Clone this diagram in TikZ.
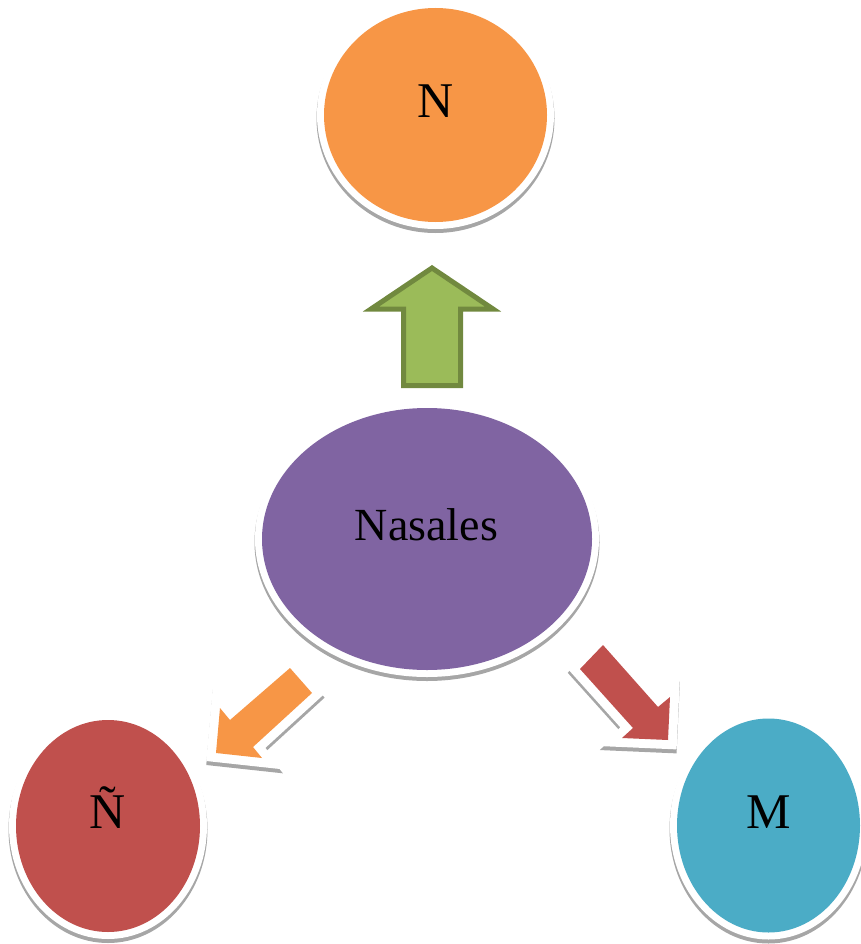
\documentclass[tikz,border=0pt]{standalone}
\usepackage{fontspec}
\setmainfont{Liberation Serif}
\usetikzlibrary{shapes.geometric}
\definecolor{cOrange}{HTML}{F79646}
\definecolor{cPurple}{HTML}{8064A2}
\definecolor{cRed}{HTML}{C0504D}
\definecolor{cTeal}{HTML}{4BACC6}
\definecolor{cGreen}{HTML}{9BBB59}
\definecolor{cGreenDark}{HTML}{71893F}
\definecolor{shadowgray}{HTML}{A6A6A6}
\tikzset{
  bubble/.style={ellipse, inner sep=0pt},
  bigtext/.style={anchor=base, font=\fontsize{50}{60}\selectfont},
  midtext/.style={anchor=base, font=\fontsize{46}{55}\selectfont},
  gshadow/.style={fill=shadowgray, draw=shadowgray, line width=18pt, line join=miter, transform canvas={yshift=-4pt}},
  wglow/.style={fill=white, draw=white, line width=18pt, line join=miter},
}
\newcommand\glowell[4]{%
  \fill[shadowgray] (#1,#2+3.5) ellipse [x radius=#3+7.5, y radius=#4+7.5];
  \fill[white] (#1,#2) ellipse [x radius=#3+7, y radius=#4+7];}
\begin{document}
\begin{tikzpicture}[x=1pt,y=-1pt]
\useasboundingbox (0,0) rectangle (861,944);
% ellipses
\glowell{435.5}{115}{111.5}{107}
\node[bubble, fill=cOrange, minimum width=223pt, minimum height=214pt] (N) at (435.5,115) {};
\glowell{427}{539}{165}{131}
\node[bubble, fill=cPurple, minimum width=330pt, minimum height=262pt] (Nas) at (427,539) {};
\glowell{108}{826}{92}{106}
\node[bubble, fill=cRed, minimum width=184pt, minimum height=212pt] (Ene) at (108,826) {};
\glowell{768.5}{825.5}{91.5}{107}
\node[bubble, fill=cTeal, minimum width=183pt, minimum height=214pt] (M) at (768.5,825.5) {};
% texts
\node[bigtext] (tN) at (435.5,118) {N};
\node[midtext] (tNas) at (426.5,540) {Nasales};
\node[bigtext] (tEne) at (108,828) {Ñ};
\node[bigtext] (tM) at (768.5,828) {M};
% green up arrow
\coordinate (g1) at (432,268);
\coordinate (g2) at (493,309);
\coordinate (g3) at (460.5,309);
\coordinate (g4) at (460.5,385.5);
\coordinate (g5) at (403.5,385.5);
\coordinate (g6) at (403.5,309);
\coordinate (g7) at (371,309);
\draw[fill=cGreen, draw=cGreenDark, line width=5pt, line join=miter] (g1) -- (g2) -- (g3) -- (g4) -- (g5) -- (g6) -- (g7) -- cycle;
% orange arrow towards Ñ
\coordinate (o1) at (216,753);
\coordinate (o2) at (220,708);
\coordinate (o3) at (230,720);
\coordinate (o4) at (290,668);
\coordinate (o5) at (312,693);
\coordinate (o6) at (253,747);
\coordinate (o7) at (262,758);
\foreach \st in {gshadow,wglow}
  \path[\st] (o1) -- (o2) -- (o3) -- (o4) -- (o5) -- (o6) -- (o7) -- cycle;
\fill[cOrange] (o1) -- (o2) -- (o3) -- (o4) -- (o5) -- (o6) -- (o7) -- cycle;
% red arrow towards M
\coordinate (r1) at (668,740);
\coordinate (r2) at (670,697);
\coordinate (r3) at (658,707);
\coordinate (r4) at (603,645);
\coordinate (r5) at (580,669);
\coordinate (r6) at (633,728);
\coordinate (r7) at (622,738);
\foreach \st in {gshadow,wglow}
  \path[\st] (r1) -- (r2) -- (r3) -- (r4) -- (r5) -- (r6) -- (r7) -- cycle;
\fill[cRed] (r1) -- (r2) -- (r3) -- (r4) -- (r5) -- (r6) -- (r7) -- cycle;
\end{tikzpicture}
\end{document}
